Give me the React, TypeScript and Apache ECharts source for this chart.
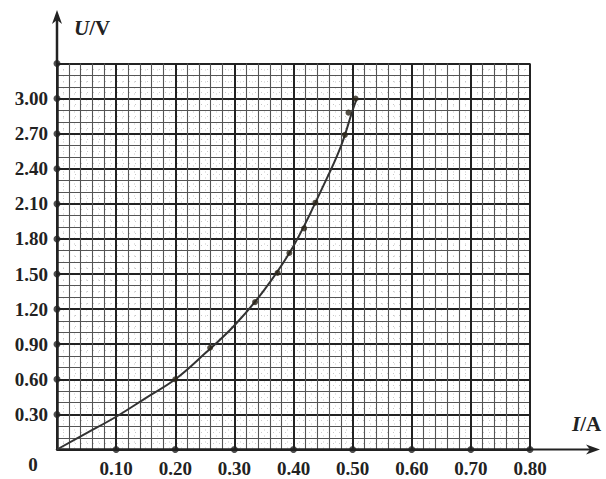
import React, { useEffect, useRef } from "react";
import * as echarts from "echarts";

// Tick values
const xTicks = [0.1, 0.2, 0.3, 0.4, 0.5, 0.6, 0.7, 0.8];
const yTicks = [0.3, 0.6, 0.9, 1.2, 1.5, 1.8, 2.1, 2.4, 2.7, 3.0, 3.3];

// Measured points (I in A, U in V)
const measuredI = [0.2, 0.259, 0.335, 0.373, 0.393, 0.418, 0.437, 0.487, 0.493, 0.505];
const measuredU = [0.6, 0.87, 1.26, 1.51, 1.68, 1.89, 2.11, 2.69, 2.88, 3.0];

// Fitted curve
const curveI = [0, 0.05, 0.1, 0.15, 0.2, 0.25, 0.3, 0.35, 0.4, 0.45, 0.48, 0.5, 0.507];
const curveU = [0, 0.14, 0.28, 0.44, 0.6, 0.82, 1.06, 1.36, 1.74, 2.25, 2.59, 2.9, 3.0];

const FONT = "'Liberation Serif', 'Times New Roman', serif";

export default function App() {
  const ref = useRef<HTMLDivElement>(null);
  useEffect(() => {
    if (!ref.current) return;
    const chart = echarts.init(ref.current, null, { renderer: "svg" });
    const gl = 57, gt = 63.5, gw = 473, gh = 386;
    const labelStyle = { fontFamily: FONT, fontWeight: "bold" as const, fontSize: 19, color: "#222" };
    chart.setOption({
      animation: false,
      backgroundColor: "#fff",
      grid: { left: gl, top: gt, width: gw, height: gh, containLabel: false },
      xAxis: [
        {
          type: "value",
          min: 0,
          max: 0.8,
          interval: 0.1,
          axisLine: { show: true, lineStyle: { color: "#222", width: 2.5 } },
          axisTick: { show: false },
          axisLabel: {
            ...labelStyle,
            margin: 9,
            formatter: (v: number) => (v < 0.05 ? "" : v.toFixed(2)),
          },
          splitLine: { show: true, lineStyle: { color: "#222", width: 2 } },
          minorTick: { show: false, splitNumber: 5 },
          minorSplitLine: { show: true, lineStyle: { color: "#555", width: 1.1 } },
          z: 3,
        },
        {
          type: "value",
          min: 0,
          max: 0.8,
          interval: 0.01,
          axisLine: { show: false },
          axisTick: { show: false },
          axisLabel: { show: false },
          splitLine: { show: true, lineStyle: { color: "#c8c8c8", width: 1, type: [1, 5] } },
          z: 1,
        },
      ],
      yAxis: [
        {
          type: "value",
          min: 0,
          max: 3.3,
          interval: 0.3,
          axisLine: { show: true, lineStyle: { color: "#222", width: 2.5 } },
          axisTick: { show: false },
          axisLabel: {
            ...labelStyle,
            margin: 9,
            formatter: (v: number) => (v < 0.05 || v > 3.2 ? "" : v.toFixed(2)),
          },
          splitLine: { show: true, lineStyle: { color: "#222", width: 2 } },
          minorTick: { show: false, splitNumber: 3 },
          minorSplitLine: { show: true, lineStyle: { color: "#555", width: 1.1 } },
          z: 3,
        },
        {
          type: "value",
          min: 0,
          max: 3.3,
          interval: 0.05,
          axisLine: { show: false },
          axisTick: { show: false },
          axisLabel: { show: false },
          splitLine: { show: true, lineStyle: { color: "#c8c8c8", width: 1, type: [1, 5] } },
          z: 1,
        },
      ],
      series: [
        {
          type: "line",
          xAxisIndex: 0,
          yAxisIndex: 0,
          smooth: 0.4,
          showSymbol: false,
          lineStyle: { color: "#333", width: 2 },
          data: curveI.map((x, i) => [x, curveU[i]]),
          z: 5,
        },
        {
          type: "scatter",
          xAxisIndex: 0,
          yAxisIndex: 0,
          symbolSize: 6,
          itemStyle: { color: "#2a2418" },
          data: measuredI.map((x, i) => [x, measuredU[i]]),
          z: 6,
        },
        {
          type: "scatter",
          xAxisIndex: 0,
          yAxisIndex: 0,
          symbolSize: 7,
          clip: false,
          itemStyle: { color: "#222" },
          data: [...xTicks.map((x) => [x, 0]), ...yTicks.map((y) => [0, y])],
          z: 6,
        },
      ],
      graphic: [
        { type: "line", shape: { x1: gl, y1: gt, x2: gl, y2: 18 }, style: { stroke: "#222", lineWidth: 2.5 } },
        { type: "polygon", shape: { points: [[gl, 10], [gl - 5, 24], [gl, 20], [gl + 5, 24]] }, style: { fill: "#222" } },
        { type: "line", shape: { x1: gl + gw, y1: gt + gh, x2: 592, y2: gt + gh }, style: { stroke: "#222", lineWidth: 2 } },
        { type: "polygon", shape: { points: [[600, gt + gh], [586, gt + gh - 5], [590, gt + gh], [586, gt + gh + 5]] }, style: { fill: "#222" } },
        {
          type: "text",
          x: 74,
          y: 28,
          style: {
            text: "{i|U}{n|/V}",
            verticalAlign: "middle",
            rich: {
              i: { fontFamily: FONT, fontStyle: "italic", fontWeight: "bold", fontSize: 21, fill: "#222" },
              n: { fontFamily: FONT, fontWeight: "bold", fontSize: 21, fill: "#222" },
            },
          },
        },
        {
          type: "text",
          x: 572,
          y: 424,
          style: {
            text: "{i|I}{n|/A}",
            verticalAlign: "middle",
            rich: {
              i: { fontFamily: FONT, fontStyle: "italic", fontWeight: "bold", fontSize: 21, fill: "#222" },
              n: { fontFamily: FONT, fontWeight: "bold", fontSize: 21, fill: "#222" },
            },
          },
        },
        {
          type: "text",
          x: 33,
          y: 464,
          style: { text: "0", fontFamily: FONT, fontWeight: "bold", fontSize: 19, fill: "#222", align: "center", verticalAlign: "middle" },
        },
      ],
    });
    return () => chart.dispose();
  }, []);
  return <div ref={ref} style={{ position: "fixed", left: 0, top: 0, width: 606, height: 479 }} />;
}
